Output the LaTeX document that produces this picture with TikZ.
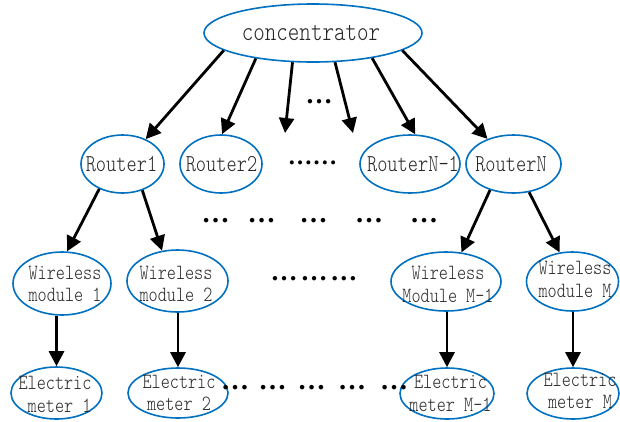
\documentclass[tikz,border=0pt]{standalone}
\usepackage{fontspec}
\usetikzlibrary{shapes.geometric,arrows.meta}
\newfontfamily\lblfont{lmmonolt10-regular.otf}[FakeStretch=0.8]
\newfontfamily\dotfont{Liberation Serif}
\definecolor{nodeblue}{RGB}{0,112,192}

\begin{document}
\begin{tikzpicture}[x=1pt,y=-1pt,
  bub/.style={ellipse,draw=nodeblue,line width=1.6pt,inner sep=0pt},
  lbl/.style={font=\lblfont\fontsize{#1}{22.5}\selectfont,text=black!85,align=center,inner sep=0pt},
  dots/.style={font=\dotfont\bfseries\fontsize{#1}{#1}\selectfont,inner sep=0pt},
  arr/.style={line width=2.8pt,-{Triangle[length=15pt,width=15pt]}}]
\useasboundingbox (0,0) rectangle (620,421);

% ellipses
\node[bub,minimum width=218pt,minimum height=58pt] (conc) at (313,33) {};
\node[bub,minimum width=83pt,minimum height=58pt] (r1) at (122.5,164) {};
\node[bub,minimum width=82pt,minimum height=58pt] (r2) at (221,164) {};
\node[bub,minimum width=100pt,minimum height=58pt] (rn1) at (410,164) {};
\node[bub,minimum width=95pt,minimum height=58pt] (rn) at (513.5,164) {};
\node[bub,minimum width=98pt,minimum height=63pt] (w1) at (62,283.5) {};
\node[bub,minimum width=101pt,minimum height=62pt] (w2) at (177.5,281) {};
\node[bub,minimum width=110pt,minimum height=59pt] (wm1) at (446,281.5) {};
\node[bub,minimum width=92pt,minimum height=59pt] (wm) at (572.5,281.5) {};
\node[bub,minimum width=91pt,minimum height=52pt] (e1) at (56.5,393) {};
\node[bub,minimum width=100pt,minimum height=50pt] (e2) at (178,393) {};
\node[bub,minimum width=94pt,minimum height=51pt] (em1) at (447,393.5) {};
\node[bub,minimum width=92pt,minimum height=51pt] (em) at (573,393.5) {};

% labels
\node[lbl=27.4] (conct) at (311,33) {concentrator};
\node[lbl=24.3] (r1t) at (121.5,164) {Router1};
\node[lbl=24.3] (r2t) at (221.5,164) {Router2};
\node[lbl=24.3] (rn1t) at (413,164) {RouterN-1};
\node[lbl=24.3] (rnt) at (511,164) {RouterN};
\node[lbl=21.7] (w1t) at (65,284) {Wireless\\module 1};
\node[lbl=21.7] (w2t) at (176,284) {Wireless\\module 2};
\node[lbl=21.7] (wm1t) at (448,284.5) {Wireless\\Module M-1};
\node[lbl=21.7] (wmt) at (575,279.5) {Wireless\\module M};
\node[lbl=21.7] (e1t) at (55,394.5) {Electric\\~meter 1};
\node[lbl=21.7] (e2t) at (179,393) {Electric\\meter 2};
\node[lbl=21.7] (em1t) at (450.5,393.5) {Electric\\meter M-1};
\node[lbl=21.7] (emt) at (580,391) {Electric\\meter M};

% ellipsis marks
\node[dots=27] (d0) at (319,102) {…};
\node[dots=24.6] (d1) at (312.5,163) {……};
\node[dots=28] (d2a) at (215.5,221) {…};
\node[dots=28] (d2b) at (261.5,221) {…};
\node[dots=28] (d2c) at (313.5,221) {…};
\node[dots=28] (d2d) at (369,221) {…};
\node[dots=28] (d2e) at (424,221) {…};
\node[dots=27] (d3) at (314,279) {…\kern3pt…\kern3pt…};
\node[dots=28] (d4a) at (235,388) {…};
\node[dots=28] (d4b) at (272.5,388) {…};
\node[dots=28] (d4c) at (311.5,388) {…};
\node[dots=28] (d4d) at (352,388) {…};
\node[dots=28] (d4e) at (394,388) {…};

% concentrator to routers
\coordinate (f1) at (285,133);
\coordinate (f2) at (353,133);
\draw[arr] (conc.191) -- (r1.47);
\draw[arr] (conc.204) -- (r2.88);
\draw[arr] (conc.235) -- (f1);
\draw[arr] (conc.307) -- (f2);
\draw[arr] (conc.337) -- (rn1.80);
\draw[arr] (conc.349) -- (rn.136);

% routers to wireless modules
\draw[arr] (r1.227) -- (w1.81);
\draw[arr] (r1.307) -- (w2.117);
\draw[arr] (rn.228) -- (wm1.62);
\draw[arr] (rn.299) -- (wm.114);

% wireless modules to meters
\draw[arr] (e1.north |- w1.south) -- (e1.north);
\draw[arr] (e2.north |- w2.south) -- (e2.north);
\draw[arr] (em1.north |- wm1.south) -- (em1.north);
\draw[arr] (em.north |- wm.south) -- (em.north);
\end{tikzpicture}
\end{document}
